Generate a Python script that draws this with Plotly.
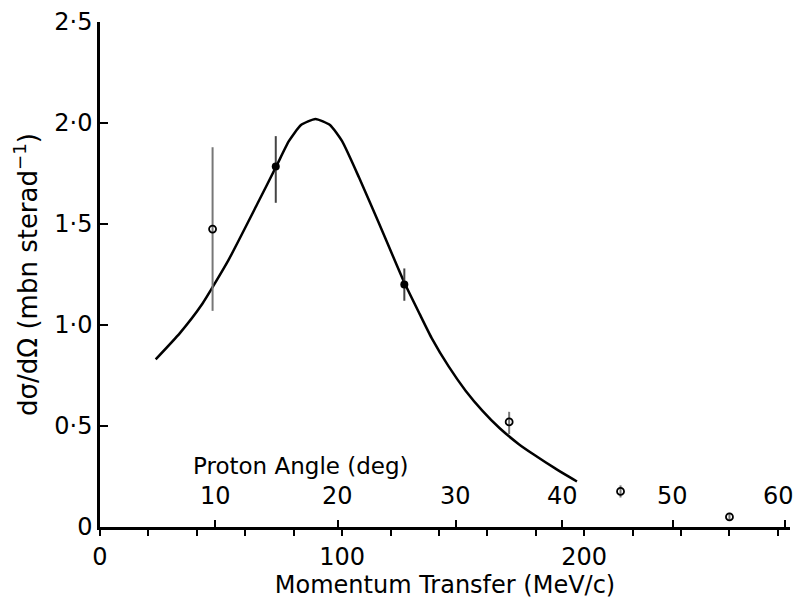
import plotly.graph_objects as go

# Fitted curve (momentum transfer MeV/c, dσ/dΩ)
curve_x = [23, 33, 42, 53, 65, 73, 78, 83, 89, 95, 100, 107, 115, 125.7, 132, 137, 144, 151, 158, 165, 173, 179, 188, 197]
curve_y = [0.83, 0.96, 1.10, 1.32, 1.60, 1.79, 1.91, 1.99, 2.02, 1.99, 1.91, 1.73, 1.51, 1.21, 1.055, 0.935, 0.795, 0.675, 0.575, 0.49, 0.41, 0.36, 0.29, 0.225]

# Data points: open circles
open_x = [46.5, 169, 215, 260]
open_y = [1.475, 0.52, 0.176, 0.05]
open_err_plus = [0.405, 0.05, 0.03, 0.02]
open_err_minus = [0.405, 0.06, 0.03, 0.02]

# Data points: filled circles
fill_x = [72.6, 125.7]
fill_y = [1.785, 1.20]
fill_err_plus = [0.15, 0.08]
fill_err_minus = [0.18, 0.08]

# Axis ticks
mom_tickvals = [0, 100, 200]
mom_ticktext = ["0", "100", "200"]
mom_minor_ticks = [20, 40, 60, 80, 120, 140, 160, 180, 220, 240, 260, 280]
angle_tick_momentum = [47.7, 98.3, 147, 191, 236.5, 283]
angle_ticktext = ["10", "20", "30", "40", "50", "60"]
y_tickvals = [0, 0.5, 1.0, 1.5, 2.0, 2.5]
y_ticktext = ["0", "0·5", "1·0", "1·5", "2·0", "2·5"]

FONT = "DejaVu Sans"
fig = go.Figure()

fig.add_trace(go.Scatter(x=curve_x, y=curve_y, mode="lines",
                         line=dict(color="black", width=2.5, shape="spline", smoothing=0.5),
                         showlegend=False, hoverinfo="skip"))
fig.add_trace(go.Scatter(x=open_x, y=open_y, mode="markers",
                         marker=dict(symbol="circle-open", size=7, color="black", line=dict(width=1.8)),
                         error_y=dict(type="data", array=open_err_plus, arrayminus=open_err_minus,
                                      width=0, thickness=2, color="#777777"),
                         showlegend=False))
fig.add_trace(go.Scatter(x=fill_x, y=fill_y, mode="markers",
                         marker=dict(symbol="circle", size=8, color="black"),
                         error_y=dict(type="data", array=fill_err_plus, arrayminus=fill_err_minus,
                                      width=0, thickness=2, color="#444444"),
                         showlegend=False))
# invisible trace to activate xaxis2 (proton angle ticks)
fig.add_trace(go.Scatter(x=[angle_tick_momentum[0]], y=[0], xaxis="x2", mode="markers",
                         marker=dict(opacity=0), showlegend=False, hoverinfo="skip"))

annotations = [dict(x=83, y=0.30, xref="x", yref="y", text="Proton Angle (deg)",
                    showarrow=False, font=dict(size=23, family=FONT, color="black"))]
for i, (pos, lab) in enumerate(zip(angle_tick_momentum, angle_ticktext)):
    annotations.append(dict(x=pos, y=0.155, xref="x", yref="y", text=lab, showarrow=False,
                            xshift=-7 if i == len(angle_ticktext) - 1 else 0,
                            font=dict(size=24, family=FONT, color="black")))

fig.update_layout(
    width=798, height=607,
    margin=dict(l=100, r=8, t=16, b=80),
    plot_bgcolor="white", paper_bgcolor="white",
    font=dict(family=FONT, size=22, color="black"),
    xaxis=dict(range=[0, 285], tickvals=mom_tickvals, ticktext=mom_ticktext,
               ticks="outside", ticklen=6, tickwidth=2, tickcolor="black",
               minor=dict(tickvals=mom_minor_ticks, ticks="outside", ticklen=6, tickwidth=2,
                          tickcolor="black", showgrid=False),
               showline=True, linecolor="black", linewidth=2.5, showgrid=False, zeroline=False,
               title=dict(text="Momentum Transfer (MeV/c)", font=dict(size=24, color="black"), standoff=2),
               tickfont=dict(size=24, color="black")),
    xaxis2=dict(range=[0, 285], overlaying="x", anchor="y", side="bottom",
                tickvals=angle_tick_momentum, ticktext=angle_ticktext,
                ticks="inside", ticklen=7, tickwidth=2, tickcolor="black",
                showticklabels=False, showline=False, showgrid=False, zeroline=False),
    yaxis=dict(range=[0, 2.5], tickvals=y_tickvals, ticktext=y_ticktext,
               ticks="inside", ticklen=8, tickwidth=2, tickcolor="black",
               showline=True, linecolor="black", linewidth=2.5, showgrid=False, zeroline=False,
               title=dict(text="dσ/dΩ (mbn sterad<sup>−1</sup>)", font=dict(size=26, color="black"), standoff=10),
               tickfont=dict(size=24, color="black")),
    annotations=annotations,
)

fig.write_html("out.html")
